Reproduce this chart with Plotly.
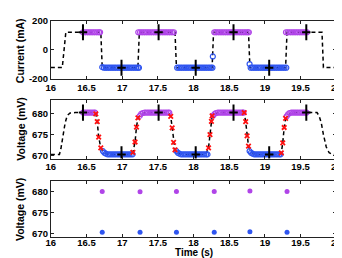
import plotly.graph_objects as go

# ---------------- data ----------------
# Panel 1: current (black dashed command trace)
cur_line_t = [16.00, 16.16, 16.21, 16.70, 16.72, 17.22, 17.24, 17.74, 17.76, 18.26, 18.28,
              18.77, 18.79, 19.29, 19.31, 19.80, 19.82, 20.00]
cur_line_v = [-121, -121, 121, 121, -122, -122, 121, 121, -122, -122, 121,
              121, -122, -122, 121, 121, -121, -121]

# Panel 1: magenta (high) samples
cur_mag_t = [16.45, 16.475, 16.50, 16.525, 16.55, 16.575, 16.60, 16.625, 16.65, 16.675, 16.69,
             17.225, 17.25, 17.275, 17.30, 17.325, 17.35, 17.375, 17.40, 17.425, 17.45, 17.475,
             17.50, 17.525, 17.55, 17.575, 17.60, 17.625, 17.65, 17.675, 17.70, 17.725,
             18.29, 18.31, 18.335, 18.36, 18.385, 18.41, 18.435, 18.46, 18.485, 18.51, 18.535,
             18.56, 18.585, 18.61, 18.635, 18.66, 18.685, 18.71, 18.735, 18.76, 18.775,
             19.295, 19.32, 19.345, 19.37, 19.395, 19.42, 19.445, 19.47, 19.495, 19.52, 19.545,
             19.57, 19.59]
cur_mag_v = [121, 121, 121, 121, 121, 121, 121, 121, 121, 121, 121,
             121, 121, 121, 121, 121, 121, 121, 121, 121, 121, 121,
             121, 121, 121, 121, 121, 121, 121, 121, 121, 121,
             121, 121, 121, 121, 121, 121, 121, 121, 121, 121, 121,
             121, 121, 121, 121, 121, 121, 121, 121, 121, 121,
             121, 121, 121, 121, 121, 121, 121, 121, 121, 121, 121,
             121, 121]

# Panel 1: blue (low) samples
cur_blue_t = [16.72, 16.745, 16.77, 16.795, 16.82, 16.845, 16.87, 16.895, 16.92, 16.945, 16.97,
              16.995, 17.02, 17.045, 17.07, 17.095, 17.12, 17.145, 17.17, 17.195, 17.22, 17.235,
              17.77, 17.795, 17.82, 17.845, 17.87, 17.895, 17.92, 17.945, 17.97, 17.995, 18.02,
              18.045, 18.07, 18.095, 18.12, 18.145, 18.17, 18.195, 18.22, 18.245, 18.265, 18.27,
              18.785, 18.80, 18.825, 18.85, 18.875, 18.90, 18.925, 18.95, 18.975, 19.00, 19.025,
              19.05, 19.075, 19.10, 19.125, 19.15, 19.175, 19.20, 19.225, 19.25, 19.275, 19.30]
cur_blue_v = [-118, -122, -122, -122, -122, -122, -122, -122, -122, -122, -122,
              -122, -122, -122, -122, -122, -122, -122, -122, -122, -122, -122,
              -122, -122, -122, -122, -122, -122, -122, -122, -122, -122, -122,
              -122, -122, -122, -122, -122, -122, -122, -122, -122, -122, -45,
              -97, -122, -122, -122, -122, -122, -122, -122, -122, -122, -122,
              -122, -122, -122, -122, -122, -122, -122, -122, -122, -122, -122]

# Cross markers (shared times)
cross_t = [16.45, 16.99, 17.51, 18.03, 18.56, 19.06, 19.58]
cross_cur = [121, -122, 121, -122, 121, -122, 121]
cross_volt = [680.3, 670.2, 680.3, 670.2, 680.3, 670.2, 680.3]

# Panel 2: voltage (black dashed trace)
volt_line_t = [16.00, 16.12, 16.14, 16.17, 16.20, 16.23, 16.27, 16.34, 16.60, 16.63, 16.65,
               16.67, 16.70, 16.73, 16.77, 16.82, 17.13, 17.15, 17.18, 17.20, 17.22, 17.25,
               17.29, 17.34, 17.65, 17.68, 17.70, 17.72, 17.74, 17.77, 17.81, 17.86, 18.17,
               18.21, 18.23, 18.25, 18.26, 18.29, 18.33, 18.38, 18.68, 18.71, 18.73, 18.75,
               18.77, 18.80, 18.84, 18.89, 19.20, 19.23, 19.25, 19.27, 19.29, 19.32, 19.36,
               19.41, 19.73, 19.76, 19.79, 19.82, 19.86, 19.90, 19.95, 20.00]
volt_line_v = [670.2, 670.2, 671.5, 674.5, 677.8, 679.6, 680.2, 680.3, 680.3, 680.0, 678.1,
               674.4, 671.8, 670.9, 670.4, 670.2, 670.2, 670.7, 673.2, 676.8, 679.0, 679.6,
               680.1, 680.3, 680.3, 679.4, 676.6, 673.1, 671.3, 670.7, 670.3, 670.2, 670.2,
               671.8, 675.0, 678.2, 679.5, 679.9, 680.2, 680.3, 680.3, 680.3, 678.1, 674.7,
               672.2, 670.9, 670.4, 670.2, 670.2, 670.6, 673.0, 676.7, 678.9, 679.7, 680.1,
               680.3, 680.3, 679.5, 677.8, 675.0, 672.0, 670.6, 670.2, 670.2]

# Panel 2: magenta samples
volt_mag_t = [16.45, 16.475, 16.50, 16.525, 16.55, 16.575, 16.60, 16.62,
              17.245, 17.265, 17.29, 17.315, 17.34, 17.365, 17.39, 17.415, 17.44, 17.465,
              17.49, 17.515, 17.54, 17.565, 17.59, 17.615, 17.64, 17.66,
              18.275, 18.295, 18.315, 18.34, 18.365, 18.39, 18.415, 18.44, 18.465, 18.49,
              18.515, 18.54, 18.565, 18.59, 18.615, 18.64, 18.665, 18.69, 18.70,
              19.305, 19.325, 19.345, 19.37, 19.395, 19.42, 19.445, 19.47, 19.495, 19.52,
              19.545, 19.57, 19.585]
volt_mag_v = [680.3, 680.3, 680.3, 680.3, 680.3, 680.3, 680.3, 680.3,
              679.5, 680.0, 680.2, 680.3, 680.3, 680.3, 680.3, 680.3, 680.3, 680.3,
              680.3, 680.3, 680.3, 680.3, 680.3, 680.3, 680.3, 680.3,
              679.6, 680.0, 680.2, 680.3, 680.3, 680.3, 680.3, 680.3, 680.3, 680.3,
              680.3, 680.3, 680.3, 680.3, 680.3, 680.3, 680.3, 680.3, 680.3,
              679.4, 679.9, 680.2, 680.3, 680.3, 680.3, 680.3, 680.3, 680.3, 680.3,
              680.3, 680.3, 680.3]

# Panel 2: blue samples
volt_blue_t = [16.73, 16.75, 16.77, 16.795, 16.82, 16.845, 16.87, 16.895, 16.92, 16.945,
               16.97, 16.995, 17.02, 17.045, 17.07, 17.095, 17.12, 17.145,
               17.76, 17.78, 17.80, 17.825, 17.85, 17.875, 17.90, 17.925, 17.95, 17.975,
               18.00, 18.025, 18.05, 18.075, 18.10, 18.125, 18.15, 18.175, 18.195,
               18.785, 18.805, 18.825, 18.85, 18.875, 18.90, 18.925, 18.95, 18.975, 19.00,
               19.025, 19.05, 19.075, 19.10, 19.125, 19.15, 19.175, 19.20, 19.22]
volt_blue_v = [671.0, 670.6, 670.4, 670.2, 670.2, 670.2, 670.2, 670.2, 670.2, 670.2,
               670.2, 670.2, 670.2, 670.2, 670.2, 670.2, 670.2, 670.2,
               671.0, 670.6, 670.4, 670.2, 670.2, 670.2, 670.2, 670.2, 670.2, 670.2,
               670.2, 670.2, 670.2, 670.2, 670.2, 670.2, 670.2, 670.2, 670.2,
               671.0, 670.6, 670.4, 670.2, 670.2, 670.2, 670.2, 670.2, 670.2, 670.2,
               670.2, 670.2, 670.2, 670.2, 670.2, 670.2, 670.2, 670.2, 670.2]

# Panel 2: red transition samples
volt_red_t = [16.63, 16.65, 16.67, 16.70, 17.15, 17.18, 17.20, 17.22,
              17.68, 17.70, 17.72, 17.74, 18.21, 18.23, 18.25, 18.26,
              18.71, 18.73, 18.75, 18.77, 19.23, 19.25, 19.27, 19.29]
volt_red_v = [680.0, 678.1, 674.4, 671.8, 670.7, 673.2, 676.8, 679.0,
              679.4, 676.6, 673.1, 671.3, 671.8, 675.0, 678.2, 679.5,
              680.3, 678.1, 674.7, 672.2, 670.6, 673.0, 676.7, 678.9]

# Panel 3: averaged levels
avg_t = [16.72, 17.25, 17.76, 18.29, 18.79, 19.31]
avg_high = [680.1, 680.0, 680.1, 680.1, 680.2, 680.1]
avg_low = [670.3, 670.3, 670.3, 670.3, 670.4, 670.3]

x_ticks = [16, 16.5, 17, 17.5, 18, 18.5, 19, 19.5, 20]
x_ticktext = ["16", "16.5", "17", "17.5", "18", "18.5", "19", "19.5", "20"]
cur_ticks = [-200, 0, 200]
cur_ticktext = ["-200", "0", "200"]
volt_ticks = [670, 675, 680]
volt_ticktext = ["670", "675", "680"]

# ---------------- styling ----------------
MAG = "#b044e8"
BLUE = "#2f55f0"
RED = "#ff1010"
FONT = "Liberation Sans"
W, H = 342, 258

fig = go.Figure()

def add_cross(xref, yref, t, v):
    fig.add_trace(go.Scatter(x=t, y=v, mode="markers", xaxis=xref, yaxis=yref,
                             marker=dict(symbol="line-ns", size=11.5,
                                         line=dict(color="black", width=2))))
    fig.add_trace(go.Scatter(x=t, y=v, mode="markers", xaxis=xref, yaxis=yref,
                             marker=dict(symbol="line-ew", size=6,
                                         line=dict(color="black", width=2))))

# Panel 1
fig.add_trace(go.Scatter(x=cur_line_t, y=cur_line_v, mode="lines", xaxis="x", yaxis="y",
                         line=dict(color="black", width=1.5, dash="4px,3px")))
fig.add_trace(go.Scatter(x=cur_mag_t, y=cur_mag_v, mode="markers", xaxis="x", yaxis="y",
                         marker=dict(symbol="circle-open", size=5, color=MAG, line=dict(width=1.2))))
fig.add_trace(go.Scatter(x=cur_blue_t, y=cur_blue_v, mode="markers", xaxis="x", yaxis="y",
                         marker=dict(symbol="circle-open", size=5, color=BLUE, line=dict(width=1.2))))
add_cross("x", "y", cross_t, cross_cur)

# Panel 2
fig.add_trace(go.Scatter(x=volt_line_t, y=volt_line_v, mode="lines", xaxis="x2", yaxis="y2",
                         line=dict(color="black", width=1.5, dash="4px,3px")))
fig.add_trace(go.Scatter(x=volt_mag_t, y=volt_mag_v, mode="markers", xaxis="x2", yaxis="y2",
                         marker=dict(symbol="circle-open", size=5, color=MAG, line=dict(width=1.2))))
fig.add_trace(go.Scatter(x=volt_blue_t, y=volt_blue_v, mode="markers", xaxis="x2", yaxis="y2",
                         marker=dict(symbol="circle-open", size=5, color=BLUE, line=dict(width=1.2))))
fig.add_trace(go.Scatter(x=volt_red_t, y=volt_red_v, mode="markers", xaxis="x2", yaxis="y2",
                         marker=dict(symbol="x-thin", size=4.5, line=dict(color=RED, width=1.8))))
add_cross("x2", "y2", cross_t, cross_volt)

# Panel 3
fig.add_trace(go.Scatter(x=avg_t, y=avg_high, mode="markers", xaxis="x3", yaxis="y3",
                         marker=dict(symbol="circle", size=5, color=MAG)))
fig.add_trace(go.Scatter(x=avg_t, y=avg_low, mode="markers", xaxis="x3", yaxis="y3",
                         marker=dict(symbol="circle", size=5, color=BLUE)))

tickfont = dict(family=FONT, size=9.5, color="black", weight="bold")
x_dom = [39 / W, 333 / W]

def xax(anchor, standoff=-1):
    return dict(domain=x_dom, range=[16, 20], anchor=anchor, tickvals=x_ticks,
                ticktext=x_ticktext, ticks="inside", ticklen=3, tickwidth=1, tickcolor="#222",
                showline=True, linecolor="#222", linewidth=1, mirror="ticks",
                showgrid=False, zeroline=False, tickfont=tickfont, ticklabelstandoff=standoff)

def yax(anchor, dom, rng, tv, tt):
    return dict(domain=dom, range=rng, anchor=anchor, tickvals=tv, ticktext=tt,
                ticks="inside", ticklen=3, tickwidth=1, tickcolor="#222",
                showline=True, linecolor="#222", linewidth=1, mirror="ticks",
                showgrid=False, zeroline=False, tickfont=tickfont)

def pdom(top_px, bot_px):
    return [(H - bot_px) / H, (H - top_px) / H]

fig.update_layout(
    width=W, height=H, margin=dict(l=0, r=0, t=0, b=0),
    paper_bgcolor="white", plot_bgcolor="white", showlegend=False,
    xaxis=xax("y"), yaxis=yax("x", pdom(7, 68), [-200, 200], cur_ticks, cur_ticktext),
    xaxis2=xax("y2"), yaxis2=yax("x2", pdom(90, 151), [669.2, 683.3], volt_ticks, volt_ticktext),
    xaxis3=xax("y3", -3), yaxis3=yax("x3", pdom(174, 233), [669.15, 682.7], volt_ticks, volt_ticktext),
)

titlefont = dict(family=FONT, size=10.5, color="black", weight="bold")
for txt, ycen in [("Current (mA)", 38), ("Voltage (mV)", 120), ("Voltage (mV)", 204)]:
    fig.add_annotation(text=txt, x=8 / W, y=(H - ycen) / H, xref="paper", yref="paper",
                       textangle=-90, showarrow=False, font=titlefont,
                       xanchor="center", yanchor="middle")
fig.add_annotation(text="Time (s)", x=186 / W, y=2 / H, xref="paper", yref="paper",
                   showarrow=False, font=dict(family=FONT, size=10, color="black", weight="bold"),
                   xanchor="center", yanchor="bottom", borderpad=0)

fig.write_html("out.html")
